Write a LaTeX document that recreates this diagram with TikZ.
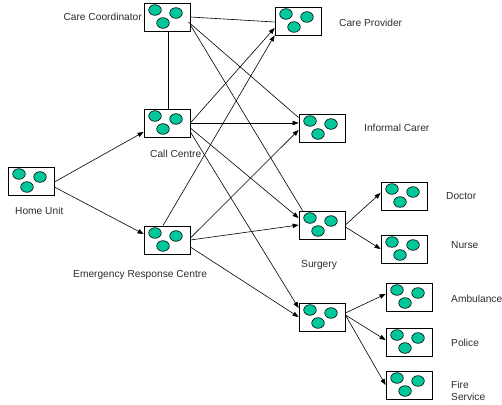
\documentclass[tikz,border=0pt]{standalone}
\usepackage{fontspec}
\setmainfont{Liberation Sans}
\usetikzlibrary{arrows.meta}
\definecolor{dot}{RGB}{0,200,155}
\definecolor{txt}{RGB}{45,45,45}
\begin{document}
\begin{tikzpicture}[x=1pt,y=-1pt,
  unitbox/.style={draw=black,line width=0.8pt,fill=white,minimum width=46pt,minimum height=28pt,inner sep=0pt,
    path picture={
      \filldraw[fill=dot,draw=black,line width=0.6pt]
        ([shift={(-12pt,7pt)}]path picture bounding box.center) ellipse [x radius=6.3pt,y radius=5.3pt]
        ([shift={(9pt,4pt)}]path picture bounding box.center) ellipse [x radius=6.3pt,y radius=5.3pt]
        ([shift={(-4pt,-6pt)}]path picture bounding box.center) ellipse [x radius=6.3pt,y radius=5.3pt];
    }},
  lbl/.style={font=\fontsize{10.2}{12}\selectfont,text=txt,inner sep=0pt,anchor=base west},
  ln/.style={line width=0.6pt,draw=black},
  arr/.style={ln,-{Triangle[length=6pt,width=4.5pt]}}
]
\useasboundingbox (0,0) rectangle (502,404);

% boxes
\node[unitbox] (cc)    at (167,17)  {};
\node[unitbox] (callc) at (167,123) {};
\node[unitbox] (hu)    at (31,181)  {};
\node[unitbox] (erc)   at (167,240) {};
\node[unitbox] (cp)    at (298,21)  {};
\node[unitbox] (ic)    at (322,128) {};
\node[unitbox] (surg)  at (322,225) {};
\node[unitbox] (es)    at (322,317) {};
\node[unitbox] (doc)   at (404,196) {};
\node[unitbox] (nurse) at (404,249) {};
\node[unitbox] (amb)   at (409,297) {};
\node[unitbox] (pol)   at (409,342) {};
\node[unitbox] (fire)  at (409,385) {};

% labels
\node[lbl,anchor=base east] (lcc) at (142,20.6) {Care Coordinator};
\node[lbl] (lcp)    at (339,26.6)  {Care Provider};
\node[lbl] (lcallc) at (150,157.6) {Call Centre};
\node[lbl] (lhu)    at (15,214.6)  {Home Unit};
\node[lbl] (lerc)   at (73,277.6)  {Emergency Response Centre};
\node[lbl] (lic)    at (364,131.6) {Informal Carer};
\node[lbl] (ldoc)   at (446,199.6) {Doctor};
\node[lbl] (lsurg)  at (301,267.6) {Surgery};
\node[lbl] (lnurse) at (451,248.6) {Nurse};
\node[lbl] (lamb)   at (451,302.6) {Ambulance};
\node[lbl] (lpol)   at (451,346.6) {Police};
\node[lbl,anchor=north west,align=left] (lfire) at (451,381.4) {Fire\\Service};

% connectors
\draw[arr] ([yshift=-1pt]hu.east) -- ([yshift=-9pt]callc.west);
\draw[arr] ([yshift=-6pt]hu.east) -- ([yshift=6pt]erc.west);

\draw[ln] ([xshift=1pt]cc.south) -- ([xshift=1pt]callc.north);
\draw[ln] (cc.east) -- ([yshift=-1pt]cp.west);
\draw[ln] ([xshift=-2pt,yshift=-5pt]cc.east) -- ([yshift=-4pt]ic.north west);
\draw[ln] ([yshift=-8pt]cc.east) -- ([xshift=4pt]surg.north west);

\draw[arr] (callc.east) -- ([yshift=-7pt]cp.west);
\draw[arr] (callc.east) -- (callc.east -| ic.west);
\draw[arr] ([yshift=-5pt]callc.east) -- ([yshift=7pt]surg.west);
\draw[arr] ([yshift=-9pt]callc.east) -- ([yshift=9pt]es.west);

\draw[arr] ([xshift=-4pt]erc.north) -- (cp.south west);
\draw[arr] ([yshift=2pt]erc.east) -- ([yshift=-2pt]ic.west);
\draw[arr] (erc.east) -- (surg.west);
\draw[arr] ([yshift=-7pt]erc.east) -- (es.west);

\draw[arr] (surg.east) -- ([yshift=3pt]doc.west);
\draw[arr] ([yshift=-2pt]surg.east) -- (nurse.west);
\draw[arr] ([yshift=4pt]es.east) -- ([yshift=3pt]amb.west);
\draw[arr] ([yshift=2pt]es.east) -- ([yshift=2pt]pol.west);
\draw[arr] ([yshift=2pt]es.east) -- (fire.west);
\end{tikzpicture}
\end{document}
